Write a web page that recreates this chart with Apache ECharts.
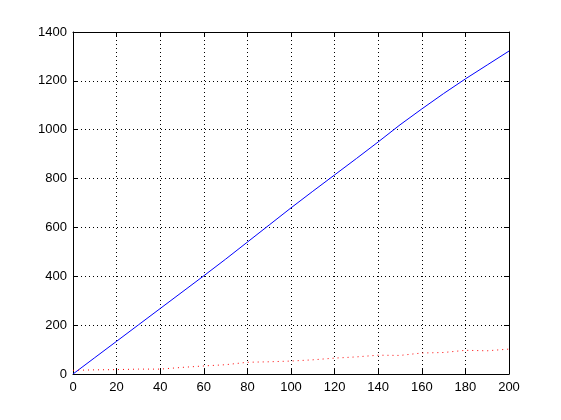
<!DOCTYPE html>
<html>
<head>
<meta charset="utf-8">
<script src="https://cdn.jsdelivr.net/npm/echarts@6/dist/echarts.min.js"></script>
<style>html,body{margin:0;padding:0;background:#fff}#c{width:561px;height:420px}</style>
</head>
<body>
<div id="c"></div>
<script>
const xValues = [0,10,20,30,40,50,60,70,80,90,100,110,120,130,140,150,160,170,180,190,200];
const blueValues = [0,67,134,201,268,335,402,470,540,610,680,748,815,882,950,1020,1085,1148,1208,1265,1322];
const redValues = [15,17,18,20,20,27,33,38,48,50,53,58,65,70,77,76,86,88,97,95,102];
const xTicks = {min:0, max:200, interval:20};
const yTicks = {min:0, max:1400, interval:200};

const chart = echarts.init(document.getElementById('c'), null, {renderer:'canvas'});
const font = {fontFamily:'Liberation Sans, Arial, sans-serif', fontSize:13, color:'#000', formatter:(v)=>String(v)};
const axisCommon = {
  axisLine:{show:true, onZero:false, lineStyle:{color:'#000', width:1}},
  axisTick:{show:true, inside:true, length:5, lineStyle:{color:'#000'}},
  splitLine:{show:false}
};
chart.setOption({
  backgroundColor:'#fff',
  animation:false,
  grid:{left:73, right:52, top:32, bottom:46, show:false},
  xAxis:[
    Object.assign({type:'value', position:'bottom', min:xTicks.min, max:xTicks.max, interval:xTicks.interval,
      axisLabel:Object.assign({margin:7}, font)}, axisCommon,
      {splitLine:{show:true, lineStyle:{color:'#000', type:[1,3], width:1}}}),
    Object.assign({type:'value', position:'top', min:xTicks.min, max:xTicks.max, interval:xTicks.interval,
      axisLabel:{show:false}}, axisCommon)
  ],
  yAxis:[
    Object.assign({type:'value', position:'left', min:yTicks.min, max:yTicks.max, interval:yTicks.interval,
      axisLabel:Object.assign({margin:6}, font)}, axisCommon,
      {splitLine:{show:true, lineStyle:{color:'#000', type:[1,3], width:1}}}),
    Object.assign({type:'value', position:'right', min:yTicks.min, max:yTicks.max, interval:yTicks.interval,
      axisLabel:{show:false}}, axisCommon)
  ],
  series:[
    {type:'line', xAxisIndex:0, yAxisIndex:0, showSymbol:false, z:5,
     data:xValues.map((x,i)=>[x, blueValues[i]]),
     lineStyle:{color:'#0000ff', width:1}},
    {type:'line', xAxisIndex:0, yAxisIndex:0, showSymbol:false, z:5,
     data:xValues.map((x,i)=>[x, redValues[i]]),
     lineStyle:{color:'#ff0000', width:1, type:[1,4]}}
  ]
});
</script>
</body>
</html>
